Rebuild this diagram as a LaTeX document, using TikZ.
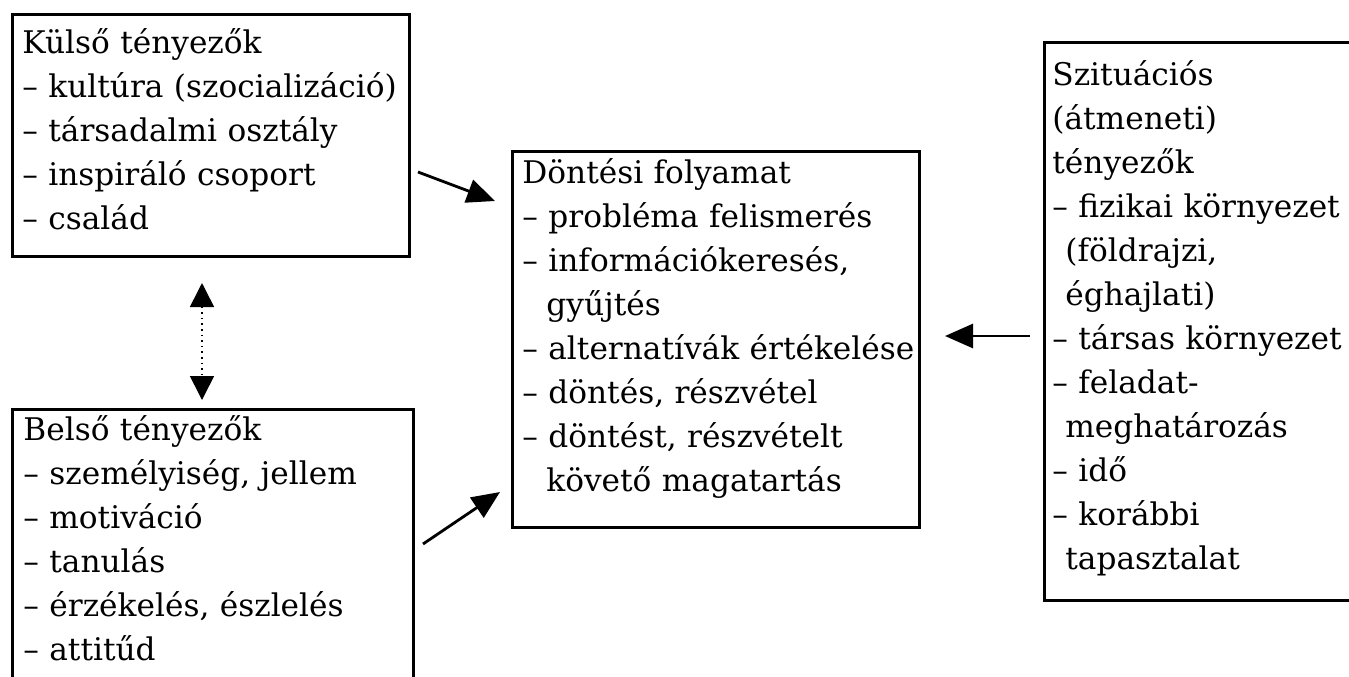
\documentclass[tikz,border=0pt]{standalone}
\usepackage{fontspec}
\setmainfont{DejaVu Serif}
\usetikzlibrary{arrows.meta}

\tikzset{
  frame/.style={draw, line width=1.3pt, anchor=north west, inner sep=0pt},
  lines/.style={anchor=base west, align=left, inner sep=0pt, text width=#1,
    font=\fontsize{15.6}{22}\selectfont},
  link/.style={line width=1.4pt, -{Triangle[length=14pt,width=12pt]}},
}

\begin{document}
\begin{tikzpicture}[x=0.5pt,y=-0.5pt]

  \useasboundingbox (0,0) rectangle (1349,676);
  \clip (0,0) rectangle (1349,676);

  % boxes
  \node[frame, minimum width=198.5pt, minimum height=121pt] (kulso) at (11,13) {};
  \node[frame, minimum width=200.5pt, minimum height=146pt] (belso) at (11,408) {};
  \node[frame, minimum width=203.5pt, minimum height=188pt] (dontes) at (511,150) {};
  \node[frame, minimum width=158.5pt, minimum height=279pt] (szit) at (1043,41) {};

  % texts
  \node[lines=195pt] (kulsotext) at ([shift={(11,40)}]kulso.north west)
    {Külső tényezők\\
     – kultúra (szocializáció)\\
     – társadalmi osztály\\
     – inspiráló csoport\\
     – család};
  \node[lines=195pt] (belsotext) at ([shift={(12,32)}]belso.north west)
    {Belső tényezők\\
     – személyiség, jellem\\
     – motiváció\\
     – tanulás\\
     – érzékelés, észlelés\\
     – attitűd};
  \node[lines=200pt] (dontestext) at ([shift={(11,33)}]dontes.north west)
    {Döntési folyamat\\
     – probléma felismerés\\
     – információkeresés,\\
     \hspace*{12pt}gyűjtés\\
     – alternatívák értékelése\\
     – döntés, részvétel\\
     – döntést, részvételt\\
     \hspace*{12pt}követő magatartás};
  \node[lines=155pt] (szittext) at ([shift={(9,44)}]szit.north west)
    {Szituációs\\
     (átmeneti)\\
     tényezők\\
     – fizikai környezet\\
     \hspace*{6.5pt}(földrajzi,\\
     \hspace*{6.5pt}éghajlati)\\
     – társas környezet\\
     – feladat-\\
     \hspace*{6.5pt}meghatározás\\
     – idő\\
     – korábbi\\
     \hspace*{6.5pt}tapasztalat};

  % arrow ends
  \coordinate (k1) at (418,172);
  \coordinate (k2) at (495,201);
  \coordinate (b1) at (423,544);
  \coordinate (b2) at (500,492);
  \coordinate (s1) at (1030,336);
  \coordinate (s2) at (945,336);
  \coordinate (d1) at (202,283);
  \coordinate (d2) at (202,400);

  % arrows
  \draw[link] (k1) -- (k2);
  \draw[link] (b1) -- (b2);
  \draw[link] (s1) -- (s2);
  \draw[dotted, line width=0.8pt, {Triangle[length=12pt,width=12pt]}-{Triangle[length=12pt,width=12pt]}] (d1) -- (d2);

\end{tikzpicture}
\end{document}
